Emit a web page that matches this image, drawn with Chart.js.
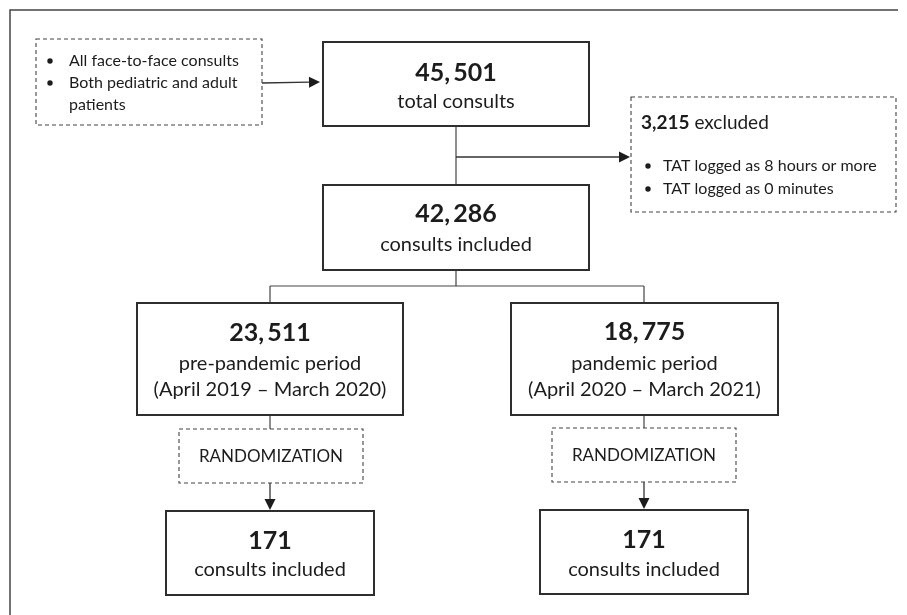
<!DOCTYPE html>
<html lang="en">
  <head>
    <meta charset="UTF-8" />
    <title>Consult flow diagram</title>
    <script src="https://cdn.jsdelivr.net/npm/chart.js"></script>
    <style>
      html, body { margin: 0; padding: 0; background: #fff; }
      #wrap { width: 907px; height: 615px; }
    </style>
  </head>
  <body>
    <div id="wrap"><canvas id="flow" width="907" height="615"></canvas></div>

    <script>
      // Counts
      const stageNames = ["total", "included", "prePandemic", "pandemic", "sampledPre", "sampledPandemic"];
      const stageCounts = [45501, 42286, 23511, 18775, 171, 171];
      const stageLabels = [
        ["total consults"],
        ["consults included"],
        ["pre-pandemic period", "(April 2019 \u2013 March 2020)"],
        ["pandemic period", "(April 2020 \u2013 March 2021)"],
        ["consults included"],
        ["consults included"],
      ];
      const excludedCount = [3215];
      const exclusionReasons = ["TAT logged as 8 hours or more", "TAT logged as 0 minutes"];
      const inclusionCriteria = ["All face-to-face consults", "Both pediatric and adult", "patients"];
      const randomLabel = ["RANDOMIZATION", "RANDOMIZATION"];

      // Layout in diagram units (x 0..907, y 0..615 from top)
      const boxes = {
        total: [323, 42, 589, 126],
        included: [323, 185, 589, 270],
        prePandemic: [137, 303, 403, 415],
        pandemic: [511, 303, 778, 415],
        sampledPre: [166, 511, 374, 595],
        sampledPandemic: [540, 510, 748, 594],
      };
      const numberY = { total: 73, included: 214, prePandemic: 333, pandemic: 332, sampledPre: 541, sampledPandemic: 540 };
      const labelY = { total: [102], included: [245], prePandemic: [364, 390], pandemic: [364, 390], sampledPre: [570], sampledPandemic: [570] };
      const randomBoxes = [[179, 429, 363, 483], [552, 428, 736, 482]];
      const criteriaBox = [36, 39, 262, 125];
      const excludedBox = [631, 97, 896, 212];

      const FONT = "Lato, 'Open Sans', sans-serif";
      const INK = "#1c1c1c";

      // big counts carry a small gap after the comma, as in the figure
      const fmtCount = (v) => v.toLocaleString("en-US").replace(",", ",\u2009");

      const flowPlugin = {
        id: "flow",
        afterDraw(chart) {
          const ctx = chart.ctx;
          const sx = chart.scales.x, sy = chart.scales.y;
          const X = (v) => sx.getPixelForValue(v);
          const Y = (v) => sy.getPixelForValue(v);

          function rect(b, dashed) {
            ctx.save();
            ctx.strokeStyle = dashed ? "#444" : "#2e2e2e";
            ctx.lineWidth = dashed ? 1.1 : 2;
            ctx.setLineDash(dashed ? [4, 3] : []);
            ctx.fillStyle = "#fff";
            ctx.fillRect(X(b[0]), Y(b[1]), X(b[2]) - X(b[0]), Y(b[3]) - Y(b[1]));
            ctx.strokeRect(X(b[0]), Y(b[1]), X(b[2]) - X(b[0]), Y(b[3]) - Y(b[1]));
            ctx.restore();
          }
          function line(x1, y1, x2, y2) {
            ctx.save();
            ctx.strokeStyle = "#444";
            ctx.lineWidth = 1.2;
            ctx.beginPath();
            ctx.moveTo(X(x1), Y(y1));
            ctx.lineTo(X(x2), Y(y2));
            ctx.stroke();
            ctx.restore();
          }
          function arrow(x1, y1, x2, y2) {
            const len = 11, half = 5.5;
            const a = Math.atan2(Y(y2) - Y(y1), X(x2) - X(x1));
            const bx = X(x2) - len * Math.cos(a), by = Y(y2) - len * Math.sin(a);
            ctx.save();
            ctx.strokeStyle = "#333";
            ctx.lineWidth = 1.3;
            ctx.beginPath();
            ctx.moveTo(X(x1), Y(y1));
            ctx.lineTo(bx, by);
            ctx.stroke();
            ctx.fillStyle = "#1c1c1c";
            ctx.beginPath();
            ctx.moveTo(X(x2), Y(y2));
            ctx.lineTo(bx - half * Math.sin(a), by + half * Math.cos(a));
            ctx.lineTo(bx + half * Math.sin(a), by - half * Math.cos(a));
            ctx.closePath();
            ctx.fill();
            ctx.restore();
          }
          function text(str, x, y, font, align) {
            ctx.save();
            ctx.font = font;
            ctx.fillStyle = INK;
            ctx.textAlign = align || "center";
            ctx.textBaseline = "middle";
            ctx.fillText(str, X(x), Y(y));
            ctx.restore();
          }
          function bullet(x, y) {
            ctx.save();
            ctx.fillStyle = INK;
            ctx.beginPath();
            ctx.arc(X(x), Y(y), 2.7, 0, Math.PI * 2);
            ctx.fill();
            ctx.restore();
          }

          // outer frame (left and top edges only)
          ctx.save();
          ctx.strokeStyle = "#444";
          ctx.lineWidth = 1.5;
          ctx.beginPath();
          ctx.moveTo(X(10), Y(615));
          ctx.lineTo(X(10), Y(10));
          ctx.lineTo(X(898), Y(10));
          ctx.stroke();
          ctx.restore();

          // connectors
          arrow(262, 83, 320, 82);
          line(456, 126, 456, 185);
          arrow(456, 157, 630, 157);
          line(456, 270, 456, 286);
          line(270, 286, 644, 286);
          line(270, 286, 270, 303);
          line(644, 286, 644, 303);
          line(270, 415, 270, 429);
          line(644, 415, 644, 428);
          arrow(270, 483, 270, 510);
          arrow(644, 482, 644, 509);

          // main boxes
          stageNames.forEach((name, i) => {
            const b = boxes[name];
            rect(b, false);
            const cx = (b[0] + b[2]) / 2;
            text(fmtCount(stageCounts[i]), cx, numberY[name], "bold 25px " + FONT);
            stageLabels[i].forEach((s, j) => text(s, cx, labelY[name][j], "20px " + FONT));
          });

          // randomization boxes
          randomBoxes.forEach((b, i) => {
            rect(b, true);
            text(randomLabel[i], (b[0] + b[2]) / 2, (b[1] + b[3]) / 2 + 1, "17px " + FONT);
          });

          // inclusion criteria
          rect(criteriaBox, true);
          bullet(50, 61);
          text(inclusionCriteria[0], 69, 61, "16px " + FONT, "left");
          bullet(50, 83);
          text(inclusionCriteria[1], 69, 83, "16px " + FONT, "left");
          text(inclusionCriteria[2], 69, 105, "16px " + FONT, "left");

          // exclusions
          rect(excludedBox, true);
          ctx.save();
          ctx.font = "bold 19px " + FONT;
          const numStr = excludedCount[0].toLocaleString("en-US");
          const w = ctx.measureText(numStr).width;
          ctx.restore();
          text(numStr, 641, 123, "bold 19px " + FONT, "left");
          text(" excluded", sx.getValueForPixel(X(641) + w), 123, "19px " + FONT, "left");
          exclusionReasons.forEach((r, i) => {
            const y = 166 + i * 23;
            bullet(648, y);
            text(r, 663, y, "16px " + FONT, "left");
          });
        },
      };

      new Chart(document.getElementById("flow"), {
        type: "scatter",
        data: {
          datasets: [
            {
              label: "stages",
              data: stageNames.map((n) => ({
                x: (boxes[n][0] + boxes[n][2]) / 2,
                y: (boxes[n][1] + boxes[n][3]) / 2,
              })),
              pointRadius: 0,
            },
          ],
        },
        options: {
          responsive: false,
          animation: false,
          layout: { padding: 0 },
          plugins: { legend: { display: false }, tooltip: { enabled: false } },
          scales: {
            x: { type: "linear", min: 0, max: 907, display: false },
            y: { type: "linear", min: 0, max: 615, reverse: true, display: false },
          },
        },
        plugins: [flowPlugin],
      });
    </script>
  </body>
</html>
